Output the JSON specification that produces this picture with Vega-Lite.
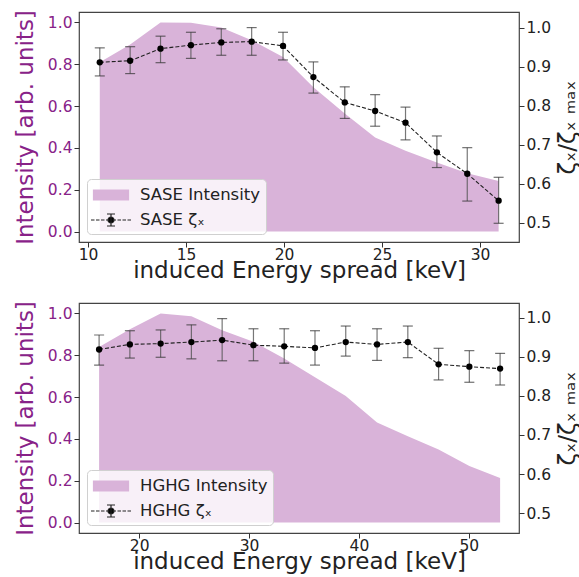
{
  "$schema": "https://vega.github.io/schema/vega-lite/v6.json",
  "padding": {"left": 13, "top": 9, "right": 0, "bottom": 0},
  "config": {
    "font": "DejaVu Sans",
    "view": {"stroke": "#444", "strokeWidth": 1.2},
    "axis": {"grid": false, "domain": false, "tickColor": "#333", "tickSize": 5, "tickWidth": 1, "labelFontSize": 15.5, "labelColor": "#222", "labelPadding": 2, "titleFontSize": 23, "titleFontWeight": "normal", "titleColor": "#222", "labelFont": "DejaVu Sans", "titleFont": "DejaVu Sans"},
    "axisX": {"labelPadding": 0},
    "legend": {"orient": "bottom-left", "offset": 8, "fillColor": "rgba(255,255,255,0.8)", "strokeColor": "#d0d0d0", "cornerRadius": 4, "padding": 5, "labelFontSize": 16.5, "labelColor": "#222", "labelFont": "DejaVu Sans", "symbolSize": 400, "symbolOffset": 8, "labelOffset": 18, "rowPadding": 5, "symbolOpacity": 1, "symbolStrokeWidth": 1.2, "labelLimit": 300}
  },
  "datasets": {
    "sase": [
      {"E": 10.6, "I": 0.81, "z": 0.912, "lo": 0.877, "hi": 0.949},
      {"E": 12.15, "I": 0.895, "z": 0.916, "lo": 0.883, "hi": 0.952},
      {"E": 13.7, "I": 1.0, "z": 0.947, "lo": 0.911, "hi": 0.979},
      {"E": 15.25, "I": 0.998, "z": 0.956, "lo": 0.922, "hi": 0.989},
      {"E": 16.8, "I": 0.976, "z": 0.963, "lo": 0.930, "hi": 0.998},
      {"E": 18.35, "I": 0.915, "z": 0.965, "lo": 0.930, "hi": 1.001},
      {"E": 19.95, "I": 0.835, "z": 0.954, "lo": 0.918, "hi": 0.989},
      {"E": 21.5, "I": 0.69, "z": 0.874, "lo": 0.833, "hi": 0.913},
      {"E": 23.1, "I": 0.565, "z": 0.809, "lo": 0.768, "hi": 0.849},
      {"E": 24.65, "I": 0.45, "z": 0.787, "lo": 0.748, "hi": 0.829},
      {"E": 26.2, "I": 0.386, "z": 0.757, "lo": 0.713, "hi": 0.797},
      {"E": 27.8, "I": 0.33, "z": 0.681, "lo": 0.642, "hi": 0.723},
      {"E": 29.35, "I": 0.279, "z": 0.626, "lo": 0.556, "hi": 0.693},
      {"E": 30.95, "I": 0.242, "z": 0.557, "lo": 0.499, "hi": 0.617}
    ],
    "hghg": [
      {"E": 16.35, "I": 0.84, "z": 0.919, "lo": 0.879, "hi": 0.956},
      {"E": 19.15, "I": 0.925, "z": 0.932, "lo": 0.897, "hi": 0.967},
      {"E": 21.95, "I": 1.0, "z": 0.934, "lo": 0.899, "hi": 0.969},
      {"E": 24.75, "I": 0.987, "z": 0.938, "lo": 0.895, "hi": 0.982},
      {"E": 27.55, "I": 0.92, "z": 0.943, "lo": 0.890, "hi": 0.998},
      {"E": 30.4, "I": 0.865, "z": 0.930, "lo": 0.890, "hi": 0.972},
      {"E": 33.2, "I": 0.785, "z": 0.927, "lo": 0.884, "hi": 0.972},
      {"E": 36.0, "I": 0.695, "z": 0.923, "lo": 0.879, "hi": 0.967},
      {"E": 38.8, "I": 0.605, "z": 0.938, "lo": 0.902, "hi": 0.979},
      {"E": 41.65, "I": 0.478, "z": 0.932, "lo": 0.891, "hi": 0.972},
      {"E": 44.45, "I": 0.413, "z": 0.938, "lo": 0.898, "hi": 0.979},
      {"E": 47.25, "I": 0.349, "z": 0.881, "lo": 0.841, "hi": 0.922},
      {"E": 50.05, "I": 0.27, "z": 0.875, "lo": 0.835, "hi": 0.916},
      {"E": 52.85, "I": 0.213, "z": 0.870, "lo": 0.828, "hi": 0.909}
    ]
  },
  "spacing": 61,
  "bounds": "flush",
  "resolve": {"scale": {"x": "independent", "y": "independent", "fill": "independent", "stroke": "independent", "shape": "independent"}, "legend": {"fill": "independent", "stroke": "independent", "shape": "independent"}},
  "vconcat": [
    {
      "width": 440, "height": 230,
      "data": {"name": "sase"},
      "encoding": {"x": {"field": "E", "type": "quantitative", "scale": {"domain": [9.54, 31.99], "nice": false, "zero": false}, "axis": {"values": [10, 15, 20, 25, 30], "title": "induced Energy spread [keV]", "titlePadding": -3}}},
      "layer": [
        {"mark": {"type": "area", "color": "#d9b3d9", "opacity": 1},
         "encoding": {"y": {"field": "I", "type": "quantitative", "scale": {"domain": [-0.05, 1.05], "nice": false, "zero": false}, "axis": {"orient": "left", "title": "Intensity [arb. units]", "values": [0, 0.2, 0.4, 0.6, 0.8, 1.0], "format": ".1f", "labelColor": "#882288", "titleColor": "#882288", "titlePadding": 10}}, "y2": {"datum": 0}}},
        {"layer": [
          {"mark": {"type": "rule", "color": "#555", "strokeWidth": 1.2, "opacity": 0.8},
           "encoding": {"y": {"field": "lo", "type": "quantitative", "scale": {"domain": [0.451, 1.041], "nice": false, "zero": false}, "axis": {"orient": "right", "title": "ζₓ/ζₓ ₘₐₓ", "values": [0.5, 0.6, 0.7, 0.8, 0.9, 1.0], "format": ".1f", "titleAngle": 270, "titleBaseline": "top", "titlePadding": 6}}, "y2": {"field": "hi"}}},
          {"mark": {"type": "tick", "orient": "horizontal", "color": "#333", "size": 10, "thickness": 1.2},
           "encoding": {"y": {"field": "lo", "type": "quantitative", "scale": {"domain": [0.451, 1.041], "nice": false, "zero": false}, "axis": {"orient": "right", "title": "ζₓ/ζₓ ₘₐₓ", "values": [0.5, 0.6, 0.7, 0.8, 0.9, 1.0], "format": ".1f", "titleAngle": 270, "titleBaseline": "top", "titlePadding": 6}}}},
          {"mark": {"type": "tick", "orient": "horizontal", "color": "#333", "size": 10, "thickness": 1.2},
           "encoding": {"y": {"field": "hi", "type": "quantitative", "scale": {"domain": [0.451, 1.041], "nice": false, "zero": false}, "axis": {"orient": "right", "title": "ζₓ/ζₓ ₘₐₓ", "values": [0.5, 0.6, 0.7, 0.8, 0.9, 1.0], "format": ".1f", "titleAngle": 270, "titleBaseline": "top", "titlePadding": 6}}}},
          {"mark": {"type": "line", "color": "#222", "strokeWidth": 1.1, "strokeDash": [4, 2]},
           "encoding": {"y": {"field": "z", "type": "quantitative", "scale": {"domain": [0.451, 1.041], "nice": false, "zero": false}, "axis": {"orient": "right", "title": "ζₓ/ζₓ ₘₐₓ", "values": [0.5, 0.6, 0.7, 0.8, 0.9, 1.0], "format": ".1f", "titleAngle": 270, "titleBaseline": "top", "titlePadding": 6}}}},
          {"mark": {"type": "point", "filled": true, "color": "black", "size": 40, "opacity": 1},
           "encoding": {"y": {"field": "z", "type": "quantitative", "scale": {"domain": [0.451, 1.041], "nice": false, "zero": false}, "axis": {"orient": "right", "title": "ζₓ/ζₓ ₘₐₓ", "values": [0.5, 0.6, 0.7, 0.8, 0.9, 1.0], "format": ".1f", "titleAngle": 270, "titleBaseline": "top", "titlePadding": 6}}}}
        ]},
        {"data": {"values": [{"series": "SASE Intensity"}, {"series": "SASE ζₓ"}]},
         "mark": {"type": "point", "filled": true, "opacity": 0},
         "encoding": {
           "fill": {"field": "series", "type": "nominal", "scale": {"domain": ["SASE Intensity", "SASE ζₓ"], "range": ["#d9b3d9", "#000000"]}, "legend": {"title": null}},
           "stroke": {"field": "series", "type": "nominal", "scale": {"domain": ["SASE Intensity", "SASE ζₓ"], "range": ["#d9b3d9", "#222222"]}, "legend": {"title": null}},
           "shape": {"field": "series", "type": "nominal", "scale": {"domain": ["SASE Intensity", "SASE ζₓ"], "range": ["M-1.75,-0.5H1.75V0.5H-1.75Z", "M-2,0H-1.65M-1.5,0H-1.15M-1,0H-0.65M-0.5,0H-0.15M0.15,0H0.5M0.65,0H1M1.15,0H1.5M1.65,0H2M0,-0.6V0.6M-0.4,-0.6H0.4M-0.4,0.6H0.4M0.3,0A0.3,0.3 0 1,1 -0.3,0A0.3,0.3 0 1,1 0.3,0Z"]}, "legend": {"title": null}}
         }}
      ],
      "resolve": {"scale": {"y": "independent"}}
    },
    {
      "width": 440, "height": 230,
      "data": {"name": "hghg"},
      "encoding": {"x": {"field": "E", "type": "quantitative", "scale": {"domain": [14.52, 54.57], "nice": false, "zero": false}, "axis": {"values": [20, 30, 40, 50], "title": "induced Energy spread [keV]", "titlePadding": -3}}},
      "layer": [
        {"mark": {"type": "area", "color": "#d9b3d9", "opacity": 1},
         "encoding": {"y": {"field": "I", "type": "quantitative", "scale": {"domain": [-0.05, 1.05], "nice": false, "zero": false}, "axis": {"orient": "left", "title": "Intensity [arb. units]", "values": [0, 0.2, 0.4, 0.6, 0.8, 1.0], "format": ".1f", "labelColor": "#882288", "titleColor": "#882288", "titlePadding": 10}}, "y2": {"datum": 0}}},
        {"layer": [
          {"mark": {"type": "rule", "color": "#555", "strokeWidth": 1.2, "opacity": 0.8},
           "encoding": {"y": {"field": "lo", "type": "quantitative", "scale": {"domain": [0.449, 1.038], "nice": false, "zero": false}, "axis": {"orient": "right", "title": "ζₓ/ζₓ ₘₐₓ", "values": [0.5, 0.6, 0.7, 0.8, 0.9, 1.0], "format": ".1f", "titleAngle": 270, "titleBaseline": "top", "titlePadding": 6}}, "y2": {"field": "hi"}}},
          {"mark": {"type": "tick", "orient": "horizontal", "color": "#333", "size": 10, "thickness": 1.2},
           "encoding": {"y": {"field": "lo", "type": "quantitative", "scale": {"domain": [0.449, 1.038], "nice": false, "zero": false}, "axis": {"orient": "right", "title": "ζₓ/ζₓ ₘₐₓ", "values": [0.5, 0.6, 0.7, 0.8, 0.9, 1.0], "format": ".1f", "titleAngle": 270, "titleBaseline": "top", "titlePadding": 6}}}},
          {"mark": {"type": "tick", "orient": "horizontal", "color": "#333", "size": 10, "thickness": 1.2},
           "encoding": {"y": {"field": "hi", "type": "quantitative", "scale": {"domain": [0.449, 1.038], "nice": false, "zero": false}, "axis": {"orient": "right", "title": "ζₓ/ζₓ ₘₐₓ", "values": [0.5, 0.6, 0.7, 0.8, 0.9, 1.0], "format": ".1f", "titleAngle": 270, "titleBaseline": "top", "titlePadding": 6}}}},
          {"mark": {"type": "line", "color": "#222", "strokeWidth": 1.1, "strokeDash": [4, 2]},
           "encoding": {"y": {"field": "z", "type": "quantitative", "scale": {"domain": [0.449, 1.038], "nice": false, "zero": false}, "axis": {"orient": "right", "title": "ζₓ/ζₓ ₘₐₓ", "values": [0.5, 0.6, 0.7, 0.8, 0.9, 1.0], "format": ".1f", "titleAngle": 270, "titleBaseline": "top", "titlePadding": 6}}}},
          {"mark": {"type": "point", "filled": true, "color": "black", "size": 40, "opacity": 1},
           "encoding": {"y": {"field": "z", "type": "quantitative", "scale": {"domain": [0.449, 1.038], "nice": false, "zero": false}, "axis": {"orient": "right", "title": "ζₓ/ζₓ ₘₐₓ", "values": [0.5, 0.6, 0.7, 0.8, 0.9, 1.0], "format": ".1f", "titleAngle": 270, "titleBaseline": "top", "titlePadding": 6}}}}
        ]},
        {"data": {"values": [{"series": "HGHG Intensity"}, {"series": "HGHG ζₓ"}]},
         "mark": {"type": "point", "filled": true, "opacity": 0},
         "encoding": {
           "fill": {"field": "series", "type": "nominal", "scale": {"domain": ["HGHG Intensity", "HGHG ζₓ"], "range": ["#d9b3d9", "#000000"]}, "legend": {"title": null}},
           "stroke": {"field": "series", "type": "nominal", "scale": {"domain": ["HGHG Intensity", "HGHG ζₓ"], "range": ["#d9b3d9", "#222222"]}, "legend": {"title": null}},
           "shape": {"field": "series", "type": "nominal", "scale": {"domain": ["HGHG Intensity", "HGHG ζₓ"], "range": ["M-1.75,-0.5H1.75V0.5H-1.75Z", "M-2,0H-1.65M-1.5,0H-1.15M-1,0H-0.65M-0.5,0H-0.15M0.15,0H0.5M0.65,0H1M1.15,0H1.5M1.65,0H2M0,-0.6V0.6M-0.4,-0.6H0.4M-0.4,0.6H0.4M0.3,0A0.3,0.3 0 1,1 -0.3,0A0.3,0.3 0 1,1 0.3,0Z"]}, "legend": {"title": null}}
         }}
      ],
      "resolve": {"scale": {"y": "independent"}}
    }
  ]
}
